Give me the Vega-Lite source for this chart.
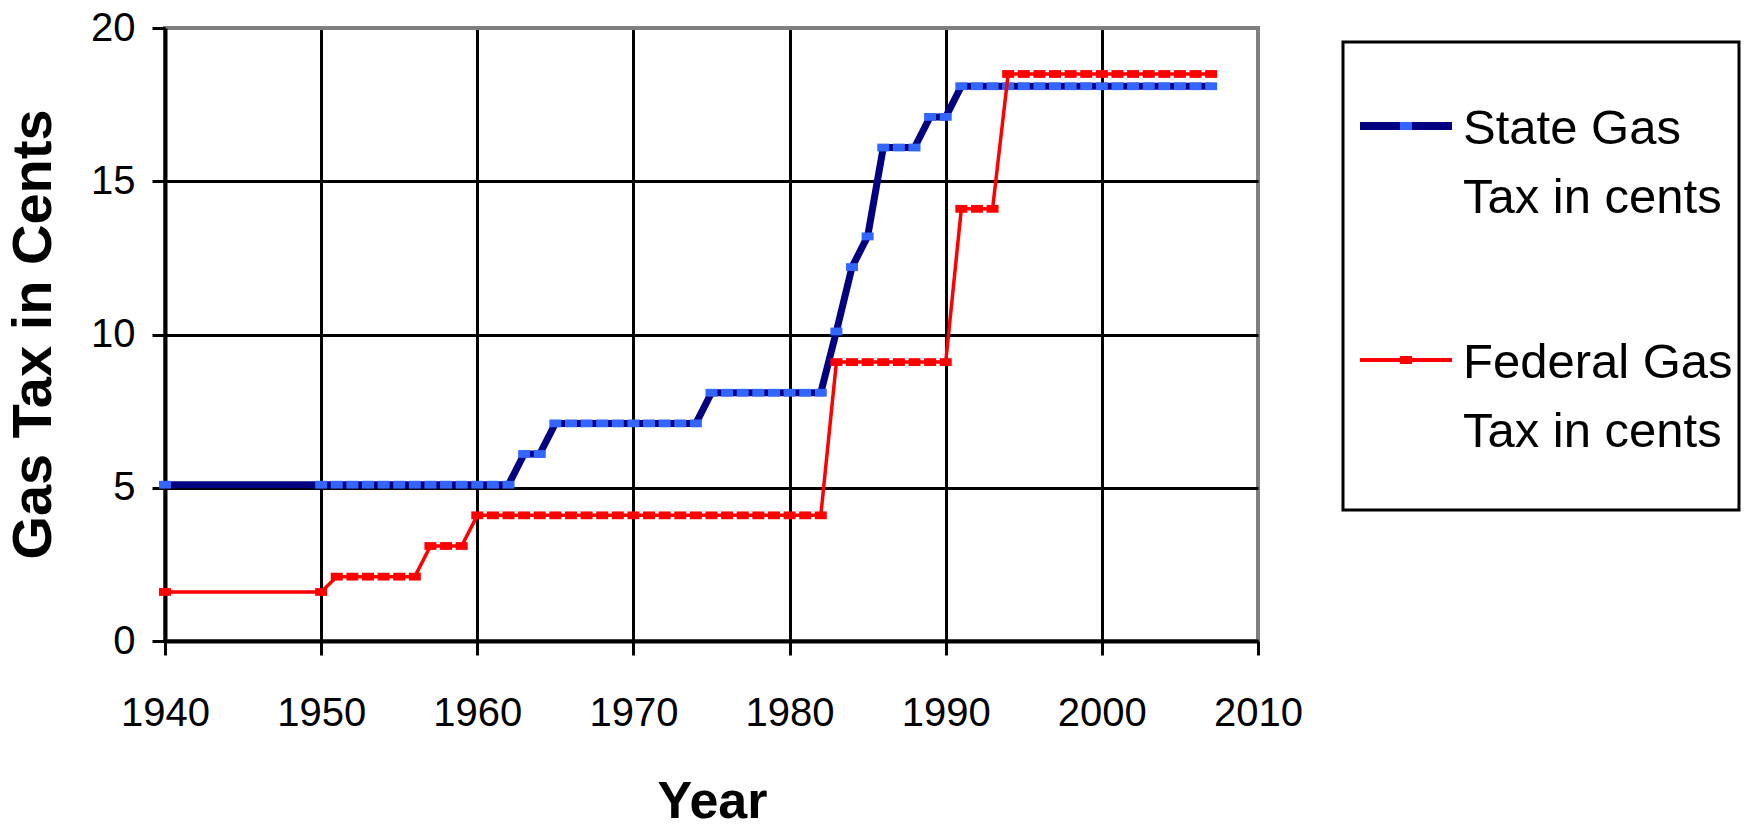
{
  "$schema": "https://vega.github.io/schema/vega-lite/v6.json",
  "width": 1093,
  "height": 613,
  "autosize": {"type": "none"},
  "padding": {"left": 165, "top": 28, "right": 490, "bottom": 188},
  "background": "white",
  "config": {
    "font": "Liberation Sans",
    "view": {"stroke": "#808080", "strokeWidth": 4},
    "legend": {"strokeWidth": 3},
    "axis": {
      "labelFont": "Liberation Sans",
      "labelColor": "black",
      "labelFontSize": 40,
      "tickColor": "black",
      "tickWidth": 3,
      "domainColor": "black",
      "domainWidth": 4,
      "gridWidth": 3,
      "gridOpacity": 1,
      "titleFont": "Liberation Sans",
      "titleColor": "black",
      "titleFontWeight": "bold",
      "titleFontSize": 52,
      "labelFlush": false,
      "labelOverlap": false
    }
  },
  "data": {
    "values": [
      {"year": 1940, "tax": 5.1, "series": "State"},
      {"year": 1950, "tax": 5.1, "series": "State"},
      {"year": 1951, "tax": 5.1, "series": "State"},
      {"year": 1952, "tax": 5.1, "series": "State"},
      {"year": 1953, "tax": 5.1, "series": "State"},
      {"year": 1954, "tax": 5.1, "series": "State"},
      {"year": 1955, "tax": 5.1, "series": "State"},
      {"year": 1956, "tax": 5.1, "series": "State"},
      {"year": 1957, "tax": 5.1, "series": "State"},
      {"year": 1958, "tax": 5.1, "series": "State"},
      {"year": 1959, "tax": 5.1, "series": "State"},
      {"year": 1960, "tax": 5.1, "series": "State"},
      {"year": 1961, "tax": 5.1, "series": "State"},
      {"year": 1962, "tax": 5.1, "series": "State"},
      {"year": 1963, "tax": 6.1, "series": "State"},
      {"year": 1964, "tax": 6.1, "series": "State"},
      {"year": 1965, "tax": 7.1, "series": "State"},
      {"year": 1966, "tax": 7.1, "series": "State"},
      {"year": 1967, "tax": 7.1, "series": "State"},
      {"year": 1968, "tax": 7.1, "series": "State"},
      {"year": 1969, "tax": 7.1, "series": "State"},
      {"year": 1970, "tax": 7.1, "series": "State"},
      {"year": 1971, "tax": 7.1, "series": "State"},
      {"year": 1972, "tax": 7.1, "series": "State"},
      {"year": 1973, "tax": 7.1, "series": "State"},
      {"year": 1974, "tax": 7.1, "series": "State"},
      {"year": 1975, "tax": 8.1, "series": "State"},
      {"year": 1976, "tax": 8.1, "series": "State"},
      {"year": 1977, "tax": 8.1, "series": "State"},
      {"year": 1978, "tax": 8.1, "series": "State"},
      {"year": 1979, "tax": 8.1, "series": "State"},
      {"year": 1980, "tax": 8.1, "series": "State"},
      {"year": 1981, "tax": 8.1, "series": "State"},
      {"year": 1982, "tax": 8.1, "series": "State"},
      {"year": 1983, "tax": 10.1, "series": "State"},
      {"year": 1984, "tax": 12.2, "series": "State"},
      {"year": 1985, "tax": 13.2, "series": "State"},
      {"year": 1986, "tax": 16.1, "series": "State"},
      {"year": 1987, "tax": 16.1, "series": "State"},
      {"year": 1988, "tax": 16.1, "series": "State"},
      {"year": 1989, "tax": 17.1, "series": "State"},
      {"year": 1990, "tax": 17.1, "series": "State"},
      {"year": 1991, "tax": 18.1, "series": "State"},
      {"year": 1992, "tax": 18.1, "series": "State"},
      {"year": 1993, "tax": 18.1, "series": "State"},
      {"year": 1994, "tax": 18.1, "series": "State"},
      {"year": 1995, "tax": 18.1, "series": "State"},
      {"year": 1996, "tax": 18.1, "series": "State"},
      {"year": 1997, "tax": 18.1, "series": "State"},
      {"year": 1998, "tax": 18.1, "series": "State"},
      {"year": 1999, "tax": 18.1, "series": "State"},
      {"year": 2000, "tax": 18.1, "series": "State"},
      {"year": 2001, "tax": 18.1, "series": "State"},
      {"year": 2002, "tax": 18.1, "series": "State"},
      {"year": 2003, "tax": 18.1, "series": "State"},
      {"year": 2004, "tax": 18.1, "series": "State"},
      {"year": 2005, "tax": 18.1, "series": "State"},
      {"year": 2006, "tax": 18.1, "series": "State"},
      {"year": 2007, "tax": 18.1, "series": "State"},
      {"year": 1940, "tax": 1.6, "series": "Federal"},
      {"year": 1950, "tax": 1.6, "series": "Federal"},
      {"year": 1951, "tax": 2.1, "series": "Federal"},
      {"year": 1952, "tax": 2.1, "series": "Federal"},
      {"year": 1953, "tax": 2.1, "series": "Federal"},
      {"year": 1954, "tax": 2.1, "series": "Federal"},
      {"year": 1955, "tax": 2.1, "series": "Federal"},
      {"year": 1956, "tax": 2.1, "series": "Federal"},
      {"year": 1957, "tax": 3.1, "series": "Federal"},
      {"year": 1958, "tax": 3.1, "series": "Federal"},
      {"year": 1959, "tax": 3.1, "series": "Federal"},
      {"year": 1960, "tax": 4.1, "series": "Federal"},
      {"year": 1961, "tax": 4.1, "series": "Federal"},
      {"year": 1962, "tax": 4.1, "series": "Federal"},
      {"year": 1963, "tax": 4.1, "series": "Federal"},
      {"year": 1964, "tax": 4.1, "series": "Federal"},
      {"year": 1965, "tax": 4.1, "series": "Federal"},
      {"year": 1966, "tax": 4.1, "series": "Federal"},
      {"year": 1967, "tax": 4.1, "series": "Federal"},
      {"year": 1968, "tax": 4.1, "series": "Federal"},
      {"year": 1969, "tax": 4.1, "series": "Federal"},
      {"year": 1970, "tax": 4.1, "series": "Federal"},
      {"year": 1971, "tax": 4.1, "series": "Federal"},
      {"year": 1972, "tax": 4.1, "series": "Federal"},
      {"year": 1973, "tax": 4.1, "series": "Federal"},
      {"year": 1974, "tax": 4.1, "series": "Federal"},
      {"year": 1975, "tax": 4.1, "series": "Federal"},
      {"year": 1976, "tax": 4.1, "series": "Federal"},
      {"year": 1977, "tax": 4.1, "series": "Federal"},
      {"year": 1978, "tax": 4.1, "series": "Federal"},
      {"year": 1979, "tax": 4.1, "series": "Federal"},
      {"year": 1980, "tax": 4.1, "series": "Federal"},
      {"year": 1981, "tax": 4.1, "series": "Federal"},
      {"year": 1982, "tax": 4.1, "series": "Federal"},
      {"year": 1983, "tax": 9.1, "series": "Federal"},
      {"year": 1984, "tax": 9.1, "series": "Federal"},
      {"year": 1985, "tax": 9.1, "series": "Federal"},
      {"year": 1986, "tax": 9.1, "series": "Federal"},
      {"year": 1987, "tax": 9.1, "series": "Federal"},
      {"year": 1988, "tax": 9.1, "series": "Federal"},
      {"year": 1989, "tax": 9.1, "series": "Federal"},
      {"year": 1990, "tax": 9.1, "series": "Federal"},
      {"year": 1991, "tax": 14.1, "series": "Federal"},
      {"year": 1992, "tax": 14.1, "series": "Federal"},
      {"year": 1993, "tax": 14.1, "series": "Federal"},
      {"year": 1994, "tax": 18.5, "series": "Federal"},
      {"year": 1995, "tax": 18.5, "series": "Federal"},
      {"year": 1996, "tax": 18.5, "series": "Federal"},
      {"year": 1997, "tax": 18.5, "series": "Federal"},
      {"year": 1998, "tax": 18.5, "series": "Federal"},
      {"year": 1999, "tax": 18.5, "series": "Federal"},
      {"year": 2000, "tax": 18.5, "series": "Federal"},
      {"year": 2001, "tax": 18.5, "series": "Federal"},
      {"year": 2002, "tax": 18.5, "series": "Federal"},
      {"year": 2003, "tax": 18.5, "series": "Federal"},
      {"year": 2004, "tax": 18.5, "series": "Federal"},
      {"year": 2005, "tax": 18.5, "series": "Federal"},
      {"year": 2006, "tax": 18.5, "series": "Federal"},
      {"year": 2007, "tax": 18.5, "series": "Federal"}
    ]
  },
  "encoding": {
    "x": {
      "field": "year",
      "type": "quantitative",
      "scale": {"domain": [1940, 2010], "nice": false, "zero": false},
      "axis": {
        "title": "Year",
        "values": [1940, 1950, 1960, 1970, 1980, 1990, 2000, 2010],
        "format": "d",
        "tickSize": 14,
        "labelPadding": 38,
        "gridColor": {"condition": {"test": "datum.value === 2010", "value": "#808080"}, "value": "black"},
        "titleX": 547,
        "titleY": 176,
        "titleAlign": "center",
        "titleBaseline": "alphabetic"
      }
    },
    "y": {
      "field": "tax",
      "type": "quantitative",
      "scale": {"domain": [0, 20], "nice": false},
      "axis": {
        "title": "Gas Tax in Cents",
        "values": [0, 5, 10, 15, 20],
        "tickSize": 13,
        "labelPadding": 17,
        "gridColor": {"condition": {"test": "datum.value === 20", "value": "#808080"}, "value": "black"},
        "titleAngle": 270,
        "titleX": -115,
        "titleY": 306,
        "titleAlign": "center",
        "titleBaseline": "alphabetic",
        "titleFontSize": 56
      }
    }
  },
  "layer": [
    {
      "transform": [{"filter": "datum.series === 'State'"}],
      "mark": {"type": "line", "strokeWidth": 7},
      "encoding": {
        "stroke": {
          "field": "series",
          "type": "nominal",
          "scale": {"domain": ["State", "Federal"], "range": ["#000080", "#FF0000"]},
          "legend": {
            "orient": "none",
            "legendX": 1178,
            "legendY": 14,
            "title": null,
            "padding": 6,
            "strokeColor": "black",
            "fillColor": "white",
            "symbolType": "stroke",
            "symbolSize": 8464,
            "labelFont": "Liberation Sans",
            "labelFontSize": 49,
            "labelColor": "black",
            "labelLimit": 600,
            "labelBaseline": "top",
            "labelExpr": "datum.label === 'State' ? ['State Gas', 'Tax in cents'] : ['Federal Gas', 'Tax in cents']",
            "rowPadding": 59,
            "encode": {
              "symbols": {
                "update": {
                  "x": {"value": 57},
                  "y": {"value": 78},
                  "shape": {"signal": "datum.value === 'State' ? 'M-1,0H1' : 'M-1,0H1M0,2.95'"},
                  "strokeWidth": {"signal": "datum.value === 'State' ? 8 : 4"}
                }
              },
              "labels": {
                "update": {
                  "x": {"value": 114},
                  "y": {"value": 57},
                  "lineHeight": {"value": 69}
                }
              }
            }
          }
        }
      }
    },
    {
      "transform": [{"filter": "datum.series === 'State'"}],
      "mark": {"type": "point", "shape": "M-1,-0.65H1V0.65H-1Z", "size": 144, "filled": true, "opacity": 1, "strokeWidth": 0},
      "encoding": {
        "fill": {
          "field": "series",
          "type": "nominal",
          "scale": {"domain": ["Federal", "State"], "range": ["#FF0000", "#3366FF"]},
          "legend": {
            "orient": "none",
            "legendX": 1178,
            "legendY": 14,
            "values": ["State", "Federal"],
            "title": null,
            "padding": 6,
            "symbolType": "M-0.13,-0.087H0.13V0.087H-0.13Z",
            "symbolSize": 8464,
            "symbolOpacity": 1,
            "labelFont": "Liberation Sans",
            "labelFontSize": 49,
            "labelColor": "black",
            "labelOpacity": 0,
            "labelLimit": 600,
            "labelBaseline": "top",
            "labelExpr": "datum.label === 'State' ? ['State Gas', 'Tax in cents'] : ['Federal Gas', 'Tax in cents']",
            "rowPadding": 59,
            "encode": {
              "symbols": {
                "update": {
                  "x": {"value": 57},
                  "y": {"value": 78},
                  "shape": {"signal": "datum.value === 'State' ? 'M-0.13,-0.087H0.13V0.087H-0.13Z' : 'M-0.13,-0.087H0.13V0.087H-0.13ZM0,2.95'"},
                  "stroke": {"value": "transparent"},
                  "strokeWidth": {"signal": "datum.value === 'State' ? 8 : 4"}
                }
              },
              "labels": {
                "update": {
                  "x": {"value": 114},
                  "y": {"value": 57},
                  "lineHeight": {"value": 69}
                }
              }
            }
          }
        }
      }
    },
    {
      "transform": [{"filter": "datum.series === 'Federal'"}],
      "mark": {"type": "line", "strokeWidth": 3.5},
      "encoding": {
        "stroke": {"field": "series", "type": "nominal"}
      }
    },
    {
      "transform": [{"filter": "datum.series === 'Federal'"}],
      "mark": {"type": "point", "shape": "M-1,-0.65H1V0.65H-1Z", "size": 144, "filled": true, "opacity": 1, "strokeWidth": 0},
      "encoding": {
        "fill": {"field": "series", "type": "nominal"}
      }
    }
  ]
}
